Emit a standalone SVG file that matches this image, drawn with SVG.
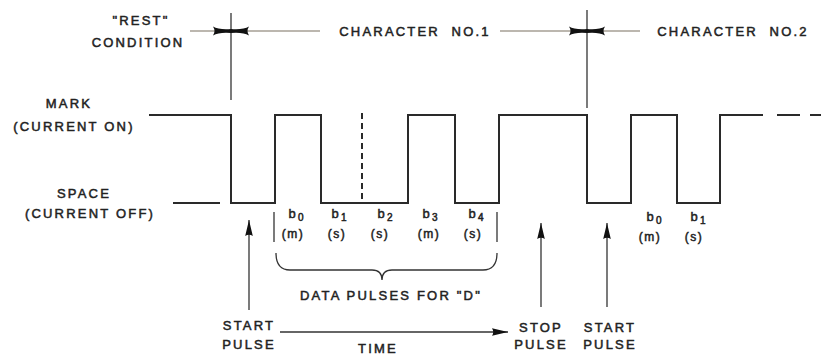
<svg xmlns="http://www.w3.org/2000/svg" width="821" height="356" viewBox="0 0 821 356">
<style>
text{font-family:"Liberation Sans",Arial,sans-serif;font-size:13px;fill:#222;stroke:#222;stroke-width:0.5;letter-spacing:2.2px;text-anchor:middle;white-space:pre}
.sm{font-size:12px;letter-spacing:1.5px}
.sub{font-size:10px;letter-spacing:0}
.wave{fill:none;stroke:#2a2a2a;stroke-width:2}
.thin{fill:none;stroke:#333;stroke-width:1.3}
.lite{fill:none;stroke:#7a7060;stroke-width:1.2}
</style>
<defs>
<marker id="bow" viewBox="0 -5 18 10" refX="18" refY="0" markerWidth="18" markerHeight="10" markerUnits="userSpaceOnUse" orient="auto">
<path d="M0,-4.5 Q6,-1 18,-2 L18,2 Q6,1 0,4.5 Q3,0 0,-4.5 Z" fill="#111"/>
</marker>
<marker id="up" viewBox="0 -4 16 8" refX="16" refY="0" markerWidth="16" markerHeight="8" markerUnits="userSpaceOnUse" orient="auto">
<path d="M0,-3.8 L16,0 L0,3.8 Q2.5,0 0,-3.8 Z" fill="#111"/>
</marker>
</defs>

<g id="labels-left">
<text x="141" y="25">"REST"</text>
<text x="138" y="47">CONDITION</text>
<text x="69" y="108">MARK</text>
<text x="74" y="131">(CURRENT ON)</text>
<text x="84" y="198">SPACE</text>
<text x="90" y="218">(CURRENT OFF)</text>
</g>

<g id="character-spans">
<line class="thin" x1="231" y1="13" x2="231" y2="100"/>
<line class="thin" x1="587" y1="10" x2="587" y2="108"/>
<line class="lite" x1="190" y1="31" x2="231" y2="31" marker-end="url(#bow)"/>
<line class="lite" x1="320" y1="31" x2="231" y2="31" marker-end="url(#bow)"/>
<line class="lite" x1="500" y1="31" x2="587" y2="31" marker-end="url(#bow)"/>
<line class="lite" x1="640" y1="31" x2="587" y2="31" marker-end="url(#bow)"/>
<text x="415" y="36" xml:space="preserve">CHARACTER  NO.1</text>
<text x="733" y="36" xml:space="preserve">CHARACTER  NO.2</text>
</g>

<g id="waveform">
<line class="wave" x1="173" y1="203" x2="220" y2="203"/>
<polyline class="wave" points="149,115 231,115 231,203 275,203 275,115 321,115 321,203 408,203 408,115 455,115 455,203 499,203 499,115 587,115 587,203 631,203 631,115 677,115 677,203 720,203 720,115 763,115"/>
<line class="wave" x1="777" y1="115" x2="800" y2="115"/>
<line class="wave" x1="810" y1="115" x2="821" y2="115"/>
<line class="wave" x1="362" y1="113" x2="362" y2="203" stroke-dasharray="6,4" stroke-width="1.6"/>
</g>

<g id="bit-labels">
<line class="thin" x1="274" y1="212" x2="274" y2="242"/>
<line class="thin" x1="497" y1="212" x2="497" y2="242"/>
<text x="296" y="218">b<tspan class="sub" dy="3">0</tspan></text>
<text x="339" y="218">b<tspan class="sub" dy="3">1</tspan></text>
<text x="385" y="218">b<tspan class="sub" dy="3">2</tspan></text>
<text x="430" y="218">b<tspan class="sub" dy="3">3</tspan></text>
<text x="476" y="218">b<tspan class="sub" dy="3">4</tspan></text>
<text class="sm" x="293" y="238">(m)</text>
<text class="sm" x="337" y="238">(s)</text>
<text class="sm" x="380" y="238">(s)</text>
<text class="sm" x="429" y="238">(m)</text>
<text class="sm" x="473" y="238">(s)</text>
<text x="654" y="221">b<tspan class="sub" dy="3">0</tspan></text>
<text x="698" y="221">b<tspan class="sub" dy="3">1</tspan></text>
<text class="sm" x="650" y="241">(m)</text>
<text class="sm" x="694" y="241">(s)</text>
</g>

<g id="data-brace">
<path class="thin" d="M276,253 Q276,270 290,270 L372,270 Q382,270 382,280 Q382,270 392,270 L483,270 Q497,270 497,253"/>
<text x="391" y="300">DATA PULSES FOR "D"</text>
</g>

<g id="pulse-arrows">
<line class="thin" x1="249" y1="310" x2="249" y2="220" marker-end="url(#up)"/>
<line class="thin" x1="541" y1="307" x2="541" y2="223" marker-end="url(#up)"/>
<line class="thin" x1="607" y1="307" x2="607" y2="223" marker-end="url(#up)"/>
<line class="thin" x1="280" y1="332" x2="508" y2="332" marker-end="url(#up)"/>
<text x="249" y="330">START</text>
<text x="249" y="349">PULSE</text>
<text x="541" y="332">STOP</text>
<text x="541" y="349">PULSE</text>
<text x="610" y="332">START</text>
<text x="610" y="349">PULSE</text>
<text x="378" y="353">TIME</text>
</g>
</svg>
